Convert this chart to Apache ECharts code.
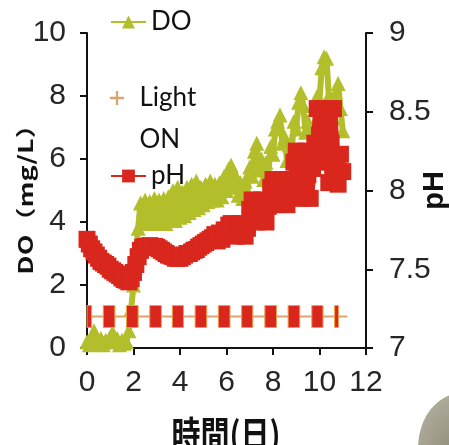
<!DOCTYPE html>
<html>
<head>
<meta charset="utf-8">
<script src="https://cdn.jsdelivr.net/npm/echarts@6/dist/echarts.min.js"></script>
<style>
  html, body { margin: 0; padding: 0; background: #ffffff; }
  #chart { width: 449px; height: 445px; }
</style>
</head>
<body>
<div id="chart"></div>
<script>
// Sampling times (days)
const days = [
  0.0, 0.1, 0.2, 0.3, 0.4, 0.5, 0.6, 0.7, 0.8, 0.9,
  1.0, 1.1, 1.2, 1.3, 1.4, 1.5, 1.6, 1.7, 1.8, 1.9,
  2.0, 2.1, 2.2, 2.3, 2.4, 2.5, 2.6, 2.7, 2.8, 2.9,
  3.0, 3.1, 3.2, 3.3, 3.4, 3.5, 3.6, 3.7, 3.8, 3.9,
  4.0, 4.1, 4.2, 4.3, 4.4, 4.5, 4.6, 4.7, 4.8, 4.9,
  5.0, 5.1, 5.2, 5.3, 5.4, 5.5, 5.6, 5.7, 5.8, 5.9,
  6.0, 6.1, 6.2, 6.3, 6.4, 6.5, 6.6, 6.7, 6.8, 6.9,
  7.0, 7.1, 7.2, 7.3, 7.4, 7.5, 7.6, 7.7, 7.8, 7.9,
  8.0, 8.1, 8.2, 8.3, 8.4, 8.5, 8.6, 8.7, 8.8, 8.9,
  9.0, 9.1, 9.2, 9.3, 9.4, 9.5, 9.6, 9.7, 9.8, 9.9,
  10.0, 10.1, 10.2, 10.3, 10.4, 10.5, 10.6, 10.7, 10.8, 10.9,
  11.0
];

// Dissolved oxygen (mg/L)
const doValues = [
  0.20, 0.10, 0.35, 0.55, 0.30, 0.15, 0.30, 0.10, 0.25, 0.20,
  0.35, 0.50, 0.20, 0.30, 0.10, 0.25, 0.15, 0.20, 0.55, 1.25,
  2.00, 2.90, 3.80, 4.60, 4.00, 4.70, 3.95, 4.65, 4.10, 4.75,
  3.95, 4.70, 4.05, 4.75, 3.95, 4.80, 4.10, 5.00, 4.05, 5.10,
  4.15, 4.95, 4.20, 5.10, 4.30, 5.20, 4.40, 5.30, 4.45, 5.10,
  4.55, 5.20, 4.65, 5.30, 4.70, 5.20, 4.70, 5.25, 4.80, 5.45,
  5.00, 5.70, 5.80, 5.10, 5.45, 4.85, 5.25, 4.75, 5.30, 4.95,
  5.75, 5.45, 6.25, 6.50, 5.65, 6.00, 5.35, 5.90, 5.55, 6.40,
  6.15, 6.95, 7.20, 7.40, 6.50, 6.70, 5.95, 6.45, 6.20, 7.20,
  6.95, 7.80, 8.10, 7.70, 6.85, 7.20, 6.50, 7.00, 6.95, 8.00,
  7.90, 8.90, 9.25, 9.20, 8.00, 7.90, 7.30, 8.10, 8.40, 7.60,
  6.90
];

// pH
const phValues = [
  7.69, 7.66, 7.63, 7.61, 7.59, 7.57, 7.55, 7.54, 7.53, 7.52,
  7.50, 7.49, 7.48, 7.47, 7.46, 7.445, 7.435, 7.43, 7.42, 7.44,
  7.48, 7.53, 7.58, 7.62, 7.64, 7.645, 7.64, 7.65, 7.64, 7.645,
  7.64, 7.63, 7.62, 7.61, 7.60, 7.59, 7.585, 7.58, 7.57, 7.57,
  7.57, 7.58, 7.59, 7.60, 7.60, 7.61, 7.62, 7.625, 7.64, 7.65,
  7.66, 7.67, 7.68, 7.69, 7.70, 7.72, 7.68, 7.73, 7.69, 7.75,
  7.73, 7.78, 7.79, 7.75, 7.71, 7.75, 7.79, 7.74, 7.71, 7.76,
  7.88, 7.94, 7.87, 7.80, 7.87, 7.94, 7.86, 7.80, 7.90, 8.02,
  8.07, 7.99, 7.91, 7.99, 8.07, 7.99, 7.91, 7.99, 8.07, 8.18,
  8.25, 8.10, 7.95, 8.10, 8.25, 8.10, 7.95, 8.14, 8.30, 8.52,
  8.35, 8.18, 8.52, 8.30, 8.05, 8.30, 8.52, 8.20, 8.04, 8.23,
  8.12
];

// Light ON periods (days)
const lightStart = [0, 0.7, 1.7, 2.7, 3.67, 4.65, 5.65, 6.65, 7.65, 8.65, 9.67, 10.65];
const lightEnd   = [0.2, 1.2, 2.2, 3.2, 4.15, 5.15, 6.15, 7.13, 8.15, 9.15, 10.15, 10.82];
const lightSpan  = [0, 11.2];
const lightLevel = 1;

// Axis scales
const dayAxis = { min: 0, max: 12, interval: 2 };
const doAxis  = { min: 0, max: 10, interval: 2 };
const phAxis  = { min: 7, max: 9, interval: 0.5 };

const GREEN = '#b3be2b';
const RED = '#d9271d';
const TAN = '#d9a56c';
const BLOCK_EDGE = '#ee9f48';
const AXIS = '#111111';
const PLUS = 'path://M5,0H7V5H12V7H7V12H5V7H0V5H5Z';

const tickFont = { fontFamily: '"Liberation Sans Narrow", "Arial Narrow", sans-serif', fontSize: 30, color: '#262626' };
const legendFont = { fontFamily: 'Lato, Carlito, sans-serif', fontSize: 26, color: '#111111' };

const chart = echarts.init(document.getElementById('chart'), null, { renderer: 'canvas' });

const axisCommon = {
  axisLine: { show: true, onZero: false, lineStyle: { color: AXIS, width: 2 } },
  axisTick: { show: true, inside: false, length: 7, lineStyle: { color: AXIS, width: 2 } },
  splitLine: { show: false }
};

chart.setOption({
  animation: false,
  backgroundColor: '#ffffff',
  grid: { left: 87, right: 83, top: 33, bottom: 97, containLabel: false, outerBoundsMode: 'none' },
  legend: [
    {
      left: 110, top: 7, padding: 0, itemGap: 0,
      itemWidth: 35, itemHeight: 16,
      data: ['DO'],
      textStyle: Object.assign({ lineHeight: 30 }, legendFont),
      selectedMode: false
    },
    {
      left: 110, top: 35, padding: 0, itemGap: 0,
      itemWidth: 35, itemHeight: 14,
      data: [{ name: 'Light ON', icon: PLUS, itemStyle: { color: TAN } }],
      // blank first line keeps the marker level with "Light"
      formatter: function () { return ' \nLight\nON'; },
      textStyle: Object.assign({ lineHeight: 42 }, legendFont),
      selectedMode: false
    },
    {
      left: 110, top: 161, padding: 0, itemGap: 0,
      itemWidth: 35, itemHeight: 16,
      data: ['pH'],
      textStyle: Object.assign({ lineHeight: 30 }, legendFont),
      selectedMode: false
    }
  ],
  xAxis: Object.assign({
    type: 'value',
    min: dayAxis.min, max: dayAxis.max, interval: dayAxis.interval,
    axisLabel: Object.assign({ margin: 20 }, tickFont)
  }, axisCommon),
  yAxis: [
    Object.assign({
      type: 'value',
      min: doAxis.min, max: doAxis.max, interval: doAxis.interval,
      axisLabel: Object.assign({ margin: 21 }, tickFont)
    }, axisCommon),
    Object.assign({
      type: 'value', position: 'right',
      min: phAxis.min, max: phAxis.max, interval: phAxis.interval,
      name: 'pH', nameLocation: 'middle', nameGap: 54, nameMoveOverlap: false,
      nameTextStyle: { fontFamily: '"Liberation Sans", Arial, sans-serif', fontWeight: 'bold', fontSize: 29, color: '#111' },
      axisLabel: Object.assign({ margin: 23 }, tickFont)
    }, axisCommon)
  ],
  graphic: [
    {
      type: 'text', x: 25, y: 193,
      rotation: Math.PI / 2, scaleX: 1.35,
      style: {
        text: 'DO（mg/L）', fill: '#111',
        font: 'bold 20px "Noto Sans CJK JP", sans-serif',
        align: 'center', verticalAlign: 'middle'
      }
    },
    {
      type: 'text', x: 226, y: 416, scaleY: 1.25,
      style: {
        text: '時間(日)', fill: '#111',
        font: 'bold 29px "Noto Sans CJK JP", sans-serif',
        align: 'center', verticalAlign: 'top'
      }
    },
    {
      type: 'circle', x: 462, y: 448, scaleY: 1.25, z: -1,
      shape: { r: 44 },
      style: {
        fill: {
          type: 'radial', x: 0.45, y: 0.55, r: 0.6,
          colorStops: [{ offset: 0, color: '#8f8b7a' }, { offset: 1, color: '#b3af9f' }]
        }
      }
    }
  ],
  series: [
    {
      name: 'DO', type: 'line', yAxisIndex: 0, z: 2,
      data: days.map(function (d, i) { return [d, doValues[i]]; }),
      symbol: 'triangle', symbolSize: 15, showAllSymbol: true,
      lineStyle: { color: GREEN, width: 6 },
      itemStyle: { color: GREEN },
      emphasis: { disabled: true }
    },
    {
      name: 'Light ON', type: 'line', yAxisIndex: 0, z: 3,
      data: lightSpan.map(function (d) { return [d, lightLevel]; }),
      symbol: 'none',
      lineStyle: { color: TAN, width: 2 },
      itemStyle: { color: TAN },
      emphasis: { disabled: true }
    },
    {
      name: 'Light ON', type: 'custom', yAxisIndex: 0, z: 4,
      data: lightStart.map(function (s, i) { return [s, lightEnd[i], lightLevel]; }),
      encode: { x: [0, 1], y: 2 },
      renderItem: function (params, api) {
        const a = api.coord([api.value(0), api.value(2)]);
        const b = api.coord([api.value(1), api.value(2)]);
        const h = 22;
        return {
          type: 'rect',
          shape: { x: a[0], y: a[1] - h / 2, width: b[0] - a[0], height: h },
          style: { fill: RED, stroke: BLOCK_EDGE, lineWidth: 1 }
        };
      }
    },
    {
      name: 'pH', type: 'line', yAxisIndex: 1, z: 5,
      data: days.map(function (d, i) { return [d, phValues[i]]; }),
      symbol: 'rect', symbolSize: 17, showAllSymbol: true,
      lineStyle: { color: RED, width: 8 },
      itemStyle: { color: RED },
      emphasis: { disabled: true }
    }
  ]
});
</script>
</body>
</html>
